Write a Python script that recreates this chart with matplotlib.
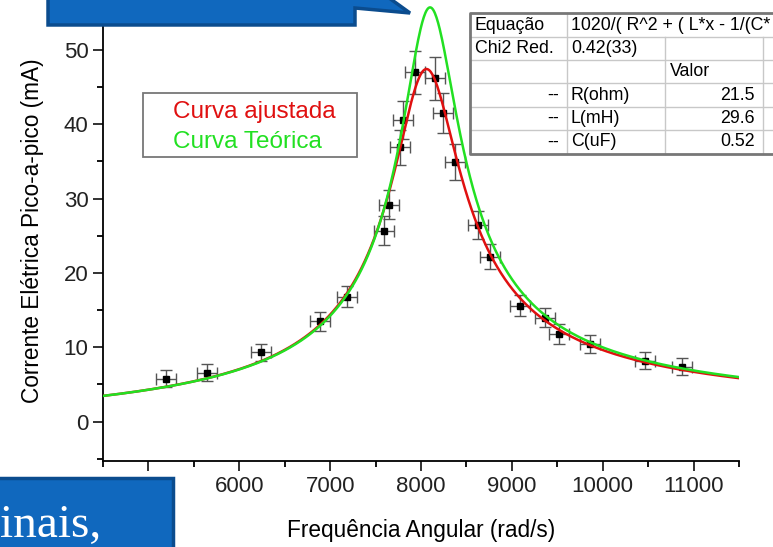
import numpy as np
import matplotlib.pyplot as plt
from matplotlib.patches import Polygon, Rectangle
from matplotlib.ticker import MultipleLocator

plt.rcParams['font.family'] = ['Liberation Sans', 'DejaVu Sans']

freq = [5198, 5648, 6242, 6890, 7187, 7593, 7648, 7769, 7802, 7934, 8154,
        8242, 8374, 8626, 8758, 9088, 9363, 9516, 9857, 10462, 10868]
corrente = [5.8, 6.6, 9.3, 13.5, 16.8, 25.7, 29.2, 36.9, 40.6, 47.0, 46.2,
            41.5, 34.9, 26.5, 22.2, 15.6, 14.0, 11.8, 10.4, 8.2, 7.4]
freq_err = 110
corr_err = [1.1, 1.1, 1.2, 1.3, 1.4, 1.9, 2.0, 2.4, 2.6, 2.9, 2.9,
            2.7, 2.4, 1.9, 1.7, 1.4, 1.3, 1.3, 1.2, 1.1, 1.1]

# Parametros: ajuste (tabela) e curva teorica
V0 = 1020
ajuste = {'R': 21.5, 'L': 29.6e-3, 'C': 0.52e-6}
teorica = {'R': 18.3, 'L': 29.2e-3, 'C': 0.522e-6}

tabela = [['Equação', '1020/( R^2 + ( L*x - 1/(C*', ''],
          ['Chi2 Red.', '0.42(33)', ''],
          ['', '', 'Valor'],
          ['--', 'R(ohm)', '21.5'],
          ['--', 'L(mH)', '29.6'],
          ['--', 'C(uF)', '0.52']]


def corrente_rlc(w, p):
    return V0 / np.sqrt(p['R']**2 + (p['L'] * w - 1 / (p['C'] * w))**2)


W, H = 773, 547
fig = plt.figure(figsize=(W / 100, H / 100), dpi=100)


def px(x, y):
    return x / W, 1 - y / H


ax = fig.add_axes([103 / W, 86 / H, (739 - 103) / W, 461 / H])
ax.set_xlim(4500, 11500)
ax.set_ylim(-5.3, 56.73)

w = np.linspace(4500, 11500, 800)
ax.errorbar(freq, corrente, xerr=freq_err, yerr=corr_err, fmt='s',
            color='black', ms=5, ecolor='#555555', elinewidth=1,
            capsize=4, capthick=1, zorder=2)
ax.plot(w, corrente_rlc(w, ajuste), color='#e01010', lw=1.8, zorder=3)
ax.plot(w, corrente_rlc(w, teorica), color='#22e022', lw=1.8, zorder=4)

for s in ['top', 'right']:
    ax.spines[s].set_visible(False)
for s in ['left', 'bottom']:
    ax.spines[s].set_linewidth(1.3)
ax.xaxis.set_major_locator(MultipleLocator(1000))
ax.xaxis.set_minor_locator(MultipleLocator(500))
ax.yaxis.set_major_locator(MultipleLocator(10))
ax.yaxis.set_minor_locator(MultipleLocator(5))
ax.tick_params(which='major', direction='out', length=7, width=1.3,
               labelsize=16, colors='#222222')
ax.tick_params(which='minor', direction='out', length=4, width=1.3)
ax.set_xlabel('Frequência Angular (rad/s)', fontsize=16.3, labelpad=16)
ax.set_ylabel('Corrente Elétrica Pico-a-pico (mA)', fontsize=16.3,
              labelpad=14)

# legenda com texto colorido
fig.patches.append(Rectangle(px(143, 157), 214 / W, 64 / H,
                             transform=fig.transFigure, fill=False,
                             edgecolor='#777777', lw=1.3))
fig.text(*px(173, 112), 'Curva ajustada', color='#e01010', fontsize=17.5,
         va='center')
fig.text(*px(173, 142), 'Curva Teórica', color='#22e022', fontsize=17.5,
         va='center')

# tabela de resultados
linhas = [13, 37, 60, 83, 107, 130, 154]
fig.patches.append(Rectangle(px(470, 154), 320 / W, 141 / H,
                             transform=fig.transFigure, facecolor='white',
                             edgecolor='none', zorder=5))
for yl in linhas[1:-1]:
    fig.add_artist(plt.Line2D([470 / W, 1], [1 - yl / H] * 2,
                              color='#c8c8c8', lw=1, zorder=6))
fig.add_artist(plt.Line2D([567 / W] * 2, [1 - 13 / H, 1 - 154 / H],
                          color='#c8c8c8', lw=1, zorder=6))
for xc in [665, 763]:
    fig.add_artist(plt.Line2D([xc / W] * 2, [1 - 37 / H, 1 - 154 / H],
                              color='#c8c8c8', lw=1, zorder=6))
fig.add_artist(plt.Line2D([1, 470 / W, 470 / W, 1],
                          [1 - 13 / H, 1 - 13 / H, 1 - 154 / H, 1 - 154 / H],
                          color='#777777', lw=2, zorder=7))
for i, row in enumerate(tabela):
    yc = (linhas[i] + linhas[i + 1]) / 2
    if row[0] == '--':
        fig.text(*px(559, yc), row[0], ha='right', va='center',
                 fontsize=12.8, zorder=8)
    else:
        fig.text(*px(475, yc), row[0], va='center', fontsize=12.8, zorder=8)
    fig.text(*px(571, yc), row[1], va='center', fontsize=12.8, zorder=8)
    if row[2] == 'Valor':
        fig.text(*px(670, yc), row[2], va='center', fontsize=12.8, zorder=8)
    else:
        fig.text(*px(755, yc), row[2], ha='right', va='center',
                 fontsize=12.8, zorder=8)

# formas azuis do slide
azul, borda = '#1068be', '#0b4c8e'
balao = [(48, -5), (48, 25), (355, 25), (355, 8), (410, 13), (385, -5)]
fig.patches.append(Polygon([px(*p) for p in balao], closed=True,
                           transform=fig.transFigure, facecolor=azul,
                           edgecolor=borda, lw=2.5, zorder=9))
fig.patches.append(Rectangle(px(-5, 552), 178 / W, 74 / H,
                             transform=fig.transFigure, facecolor=azul,
                             edgecolor=borda, lw=2.5, zorder=9))
fig.text(*px(0, 537), 'inais,', color='white', fontsize=34,
         family='Liberation Serif', va='baseline', zorder=10)

fig.savefig('out.png', dpi=100)
